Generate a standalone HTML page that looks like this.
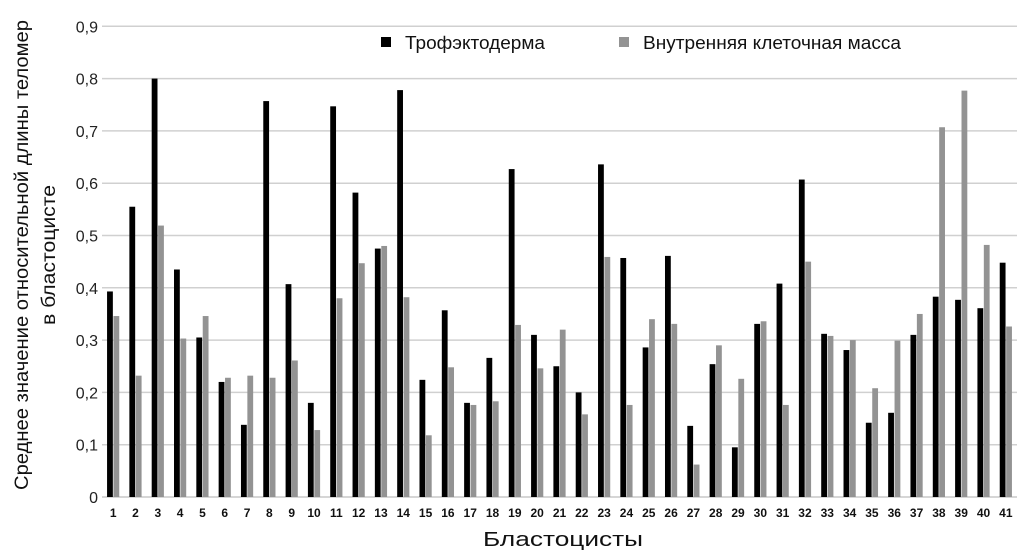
<!DOCTYPE html>
<html><head><meta charset="utf-8"><style>
body{margin:0;background:#fff;}
svg{display:block;font-family:"Liberation Sans",sans-serif;}
</style></head><body>
<svg id="c" width="1024" height="551"></svg>
<script>
const categories=[1,2,3,4,5,6,7,8,9,10,11,12,13,14,15,16,17,18,19,20,21,22,23,24,25,26,27,28,29,30,31,32,33,34,35,36,37,38,39,40,41];
const trophValues=[0.393,0.555,0.80,0.435,0.305,0.22,0.138,0.757,0.407,0.18,0.747,0.582,0.475,0.778,0.224,0.357,0.18,0.266,0.627,0.31,0.25,0.20,0.636,0.457,0.286,0.461,0.136,0.254,0.095,0.331,0.408,0.607,0.312,0.281,0.142,0.161,0.31,0.383,0.377,0.361,0.448];
const icmValues=[0.346,0.232,0.519,0.303,0.346,0.228,0.232,0.228,0.261,0.128,0.380,0.447,0.48,0.382,0.118,0.248,0.176,0.183,0.329,0.246,0.32,0.158,0.459,0.176,0.340,0.331,0.062,0.29,0.226,0.336,0.176,0.45,0.308,0.30,0.208,0.299,0.35,0.707,0.777,0.482,0.326];
const yTicks=[0,0.1,0.2,0.3,0.4,0.5,0.6,0.7,0.8,0.9];
const yTickLabels=["0","0,1","0,2","0,3","0,4","0,5","0,6","0,7","0,8","0,9"];

const svg=document.getElementById('c');
const NS='http://www.w3.org/2000/svg';
const L=102,R=1017,Y0=497,PX=523;
const y=v=>Y0-v*PX;
const step=(R-L)/categories.length;
const xc=i=>L+step*(i+0.5);
function mk(t,a,txt){const e=document.createElementNS(NS,t);for(const k in a)e.setAttribute(k,a[k]);if(txt!==undefined)e.textContent=txt;svg.appendChild(e);return e;}

yTicks.forEach((t,i)=>{
  if(t>0){const g=mk('line',{x1:L,x2:R,y1:y(t),y2:y(t),stroke:'#d0d0d0','stroke-width':1.5});
  
  }
  const tx=mk('text',{x:98,y:y(t)+6,'text-anchor':'end','font-size':16,fill:'#222'},yTickLabels[i]);
  
  
});
const ax=mk('line',{x1:L,x2:R,y1:Y0,y2:Y0,stroke:'#c8c8c8','stroke-width':1.5});



const bw=5.8;
categories.forEach((c,i)=>{
  const cx=xc(i);
  const b=mk('rect',{x:cx-bw-0.3,y:y(trophValues[i]),width:bw,height:trophValues[i]*PX,fill:'#000'});
  
  
  const g=mk('rect',{x:cx+0.3,y:y(icmValues[i]),width:bw,height:icmValues[i]*PX,fill:'#939393'});
  
  
  const t=mk('text',{x:cx,y:517,'text-anchor':'middle','font-size':12,'font-weight':'bold',fill:'#111'},String(c));
  
  
});

const s1=mk('rect',{x:381,y:37,width:10,height:10,fill:'#000'});


const l1=mk('text',{x:405,y:49,'font-size':18,fill:'#111',textLength:140,lengthAdjust:'spacingAndGlyphs'},'Трофэктодерма');


const s2=mk('rect',{x:619,y:37,width:10,height:10,fill:'#939393'});


const l2=mk('text',{x:643,y:49,'font-size':18,fill:'#111',textLength:258,lengthAdjust:'spacingAndGlyphs'},'Внутренняя клеточная масса');



const yt=mk('text',{transform:'translate(28,255) rotate(-90)','text-anchor':'middle','font-size':19,fill:'#111',textLength:470,lengthAdjust:'spacingAndGlyphs'},'Среднее значение относительной длины теломер');


const yt2=mk('text',{transform:'translate(55,255) rotate(-90)','text-anchor':'middle','font-size':19,fill:'#111',textLength:140,lengthAdjust:'spacingAndGlyphs'},'в бластоцисте');


const xt=mk('text',{x:563,y:546,'text-anchor':'middle','font-size':20,fill:'#111',textLength:160,lengthAdjust:'spacingAndGlyphs'},'Бластоцисты');


</script>
</body></html>
